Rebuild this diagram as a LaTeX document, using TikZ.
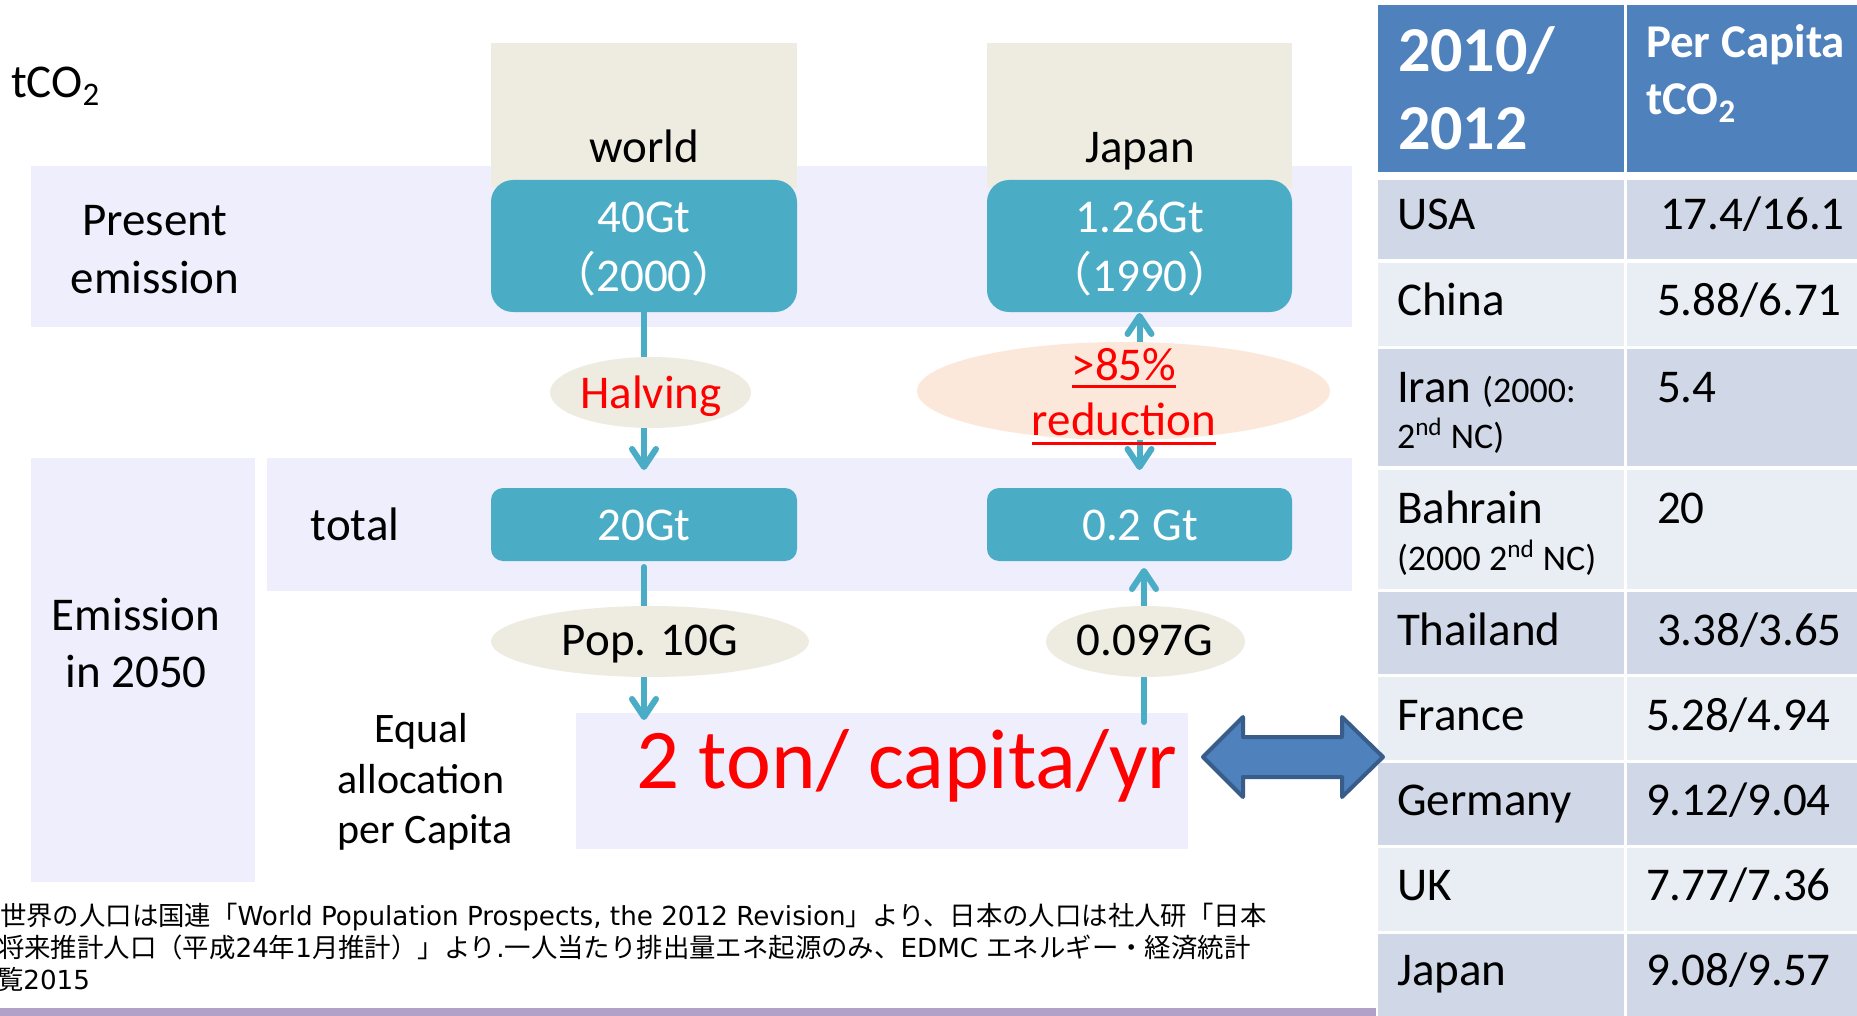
\documentclass[tikz,border=0pt]{standalone}
\usepackage{fontspec}
\setmainfont{Carlito}
\newfontfamily\cjk{Noto Sans CJK JP}
\newfontfamily\lat{DejaVu Sans}
\usetikzlibrary{shapes.geometric,arrows.meta}
\definecolor{bandc}{RGB}{238,238,252}
\definecolor{tanc}{RGB}{238,236,225}
\definecolor{aqua}{RGB}{75,172,198}
\definecolor{peach}{RGB}{252,232,218}
\definecolor{hdr}{RGB}{79,129,189}
\definecolor{rowA}{RGB}{208,216,232}
\definecolor{rowB}{RGB}{233,237,244}
\definecolor{arrB}{RGB}{56,93,138}
\definecolor{purp}{RGB}{177,160,199}
\definecolor{redc}{RGB}{255,0,0}
\newcommand\fL{\fontsize{23.5}{28}\selectfont}
\newcommand\fS{\fontsize{18}{22}\selectfont}
\newcommand\fN{\fontsize{13.2}{15}\selectfont}
\newcommand\lt[1]{{\lat\fontsize{13.1}{15}\selectfont #1}}
\begin{document}
\begin{tikzpicture}[x=0.5pt,y=-0.5pt,
  bgbox/.style={rectangle,inner sep=0,outer sep=0,draw=none},
  ell/.style={ellipse,inner sep=0,outer sep=0,draw=none},
  arr/.style={draw=aqua,line width=3pt,line cap=round,
    -{Straight Barb[length=9pt,width=12pt,line cap=round,line join=round]}},
  arrtwo/.style={draw=aqua,line width=3pt,line cap=round,
    {Straight Barb[length=9pt,width=12pt,line cap=round,line join=round]}-{Straight Barb[length=9pt,width=12pt,line cap=round,line join=round]}},
  lbl/.style={inner sep=0,outer sep=0,anchor=base,font=\fL},
  wlbl/.style={lbl,text=white},
  tlbl/.style={inner sep=0,outer sep=0,anchor=base west,font=\fL},
  hlbl/.style={tlbl,text=white,font=\bfseries\fontsize{32}{38}\selectfont},
  plbl/.style={tlbl,text=white,font=\bfseries\fL},
  foot/.style={inner sep=0,outer sep=0,anchor=base west,font=\cjk\fN},
  uline/.style={draw=redc,line width=1.5pt}]
\useasboundingbox (0,0) rectangle (1857,1016);
\fill[white] (0,0) rectangle (1857,1016);

% background bands
\node[bgbox,fill=bandc,minimum width=660.5pt,minimum height=80.5pt] (bandP) at (691.5,246.5) {};
\node[bgbox,fill=bandc,minimum width=112pt,minimum height=212pt] (bandL) at (143,670) {};
\node[bgbox,fill=bandc,minimum width=542.5pt,minimum height=66.5pt] (bandT) at (809.5,524.5) {};
\node[bgbox,fill=bandc,minimum width=306pt,minimum height=68pt] (ton) at (882,781) {};

% column headers
\node[bgbox,fill=tanc,minimum width=153pt,minimum height=72.5pt] (hW) at (644,115.5) {};
\node[bgbox,fill=tanc,minimum width=152.5pt,minimum height=72.5pt] (hJ) at (1139.5,115.5) {};

% value boxes
\node[bgbox,fill=aqua,rounded corners=11pt,minimum width=153pt,minimum height=66pt] (b40) at (644,246) {};
\node[bgbox,fill=aqua,rounded corners=11pt,minimum width=152.5pt,minimum height=66pt] (bJ1) at (1139.5,246) {};
\node[bgbox,fill=aqua,rounded corners=6pt,minimum width=153pt,minimum height=36.5pt] (b20) at (644,524.5) {};
\node[bgbox,fill=aqua,rounded corners=6pt,minimum width=152.5pt,minimum height=36.5pt] (bJ2) at (1139.5,524.5) {};

% connectors
\draw[arr,shorten >=9pt] (b40) -- (b20);
\draw[arrtwo,shorten <=0.5pt,shorten >=9pt] (bJ1) -- (bJ2);
\coordinate (wtip) at (644,720);
\draw[arr,shorten <=3pt] (b20.south) -- (wtip);
\coordinate (jbot) at (1144,722);
\draw[arr,shorten >=3.5pt] (jbot) -- (jbot |- bJ2.south);

% ellipses
\node[ell,fill=tanc,minimum width=100.5pt,minimum height=35.5pt] (eH) at (650.5,392.5) {};
\node[ell,fill=peach,minimum width=206.5pt,minimum height=49pt] (eR) at (1123.5,391) {};
\node[ell,fill=tanc,minimum width=159pt,minimum height=35.5pt] (eP) at (650,641.5) {};
\node[ell,fill=tanc,minimum width=99.5pt,minimum height=35.5pt] (eJ) at (1145.5,641.5) {};

% left labels
\node[tlbl] (tco) at (11,98) {tCO\textsubscript{2}};
\node[lbl] (tWorld) at (644,163) {world};
\node[lbl] (tJapan) at (1140,163) {Japan};
\node[lbl] (tPres) at (155,235) {Present};
\node[lbl] (tEmis) at (155,293) {emission};
\node[wlbl] (t40) at (644,233) {40Gt};
\node[wlbl] (t2000) at (644,292) {{\cjk （}2000{\cjk ）}};
\node[wlbl] (t126) at (1140,233) {1.26Gt};
\node[wlbl] (t1990) at (1140,292) {{\cjk （}1990{\cjk ）}};
\node[lbl,text=redc] (tHalv) at (651,408) {Halving};
\node[lbl,text=redc] (tR1) at (1124,380) {>85\%\hspace{0.25em}};
\node[lbl,text=redc] (tR2) at (1124,435) {reduction};
\draw[uline] ([yshift=-3pt]tR1.base west) -- ([yshift=-3pt]tR1.base east);
\draw[uline] ([yshift=-4pt]tR2.base west) -- ([yshift=-4pt]tR2.base east);
\node[lbl] (tEm) at (136,630) {Emission};
\node[lbl] (tIn) at (136,687) {in 2050};
\node[lbl] (tTot) at (355,540) {total};
\node[wlbl] (t20) at (644,540) {20Gt};
\node[wlbl] (t02) at (1140,540) {0.2 Gt};
\node[lbl] (tPop) at (650,655) {Pop. 10G};
\node[lbl] (t097) at (1145,655) {0.097G};
\node[lbl,font=\fontsize{21}{25}\selectfont] (tEq1) at (421,742) {Equal};
\node[lbl,font=\fontsize{21}{25}\selectfont] (tEq2) at (421,793) {allocation};
\node[lbl,font=\fontsize{21}{25}\selectfont] (tEq3) at (425,843) {per Capita};
\node[lbl,text=redc,font=\fontsize{42.5}{50}\selectfont] (tTon) at (907,788) {2 ton/ capita/yr};

% table
\fill[hdr] (1378,5) rectangle (1624,172);
\fill[hdr] (1627,5) rectangle (1860,172);
\fill[rowA] (1378,180) rectangle (1624,259); \fill[rowA] (1627,180) rectangle (1860,259);
\fill[rowB] (1378,263) rectangle (1624,346); \fill[rowB] (1627,263) rectangle (1860,346);
\fill[rowA] (1378,349) rectangle (1624,466); \fill[rowA] (1627,349) rectangle (1860,466);
\fill[rowB] (1378,470) rectangle (1624,589); \fill[rowB] (1627,470) rectangle (1860,589);
\fill[rowA] (1378,592) rectangle (1624,674); \fill[rowA] (1627,592) rectangle (1860,674);
\fill[rowB] (1378,677) rectangle (1624,760); \fill[rowB] (1627,677) rectangle (1860,760);
\fill[rowA] (1378,763) rectangle (1624,845); \fill[rowA] (1627,763) rectangle (1860,845);
\fill[rowB] (1378,848) rectangle (1624,931); \fill[rowB] (1627,848) rectangle (1860,931);
\fill[rowA] (1378,934) rectangle (1624,1020); \fill[rowA] (1627,934) rectangle (1860,1020);

\node[hlbl] (h2010) at (1398,72) {2010/};
\node[hlbl] (h2012) at (1398,150) {2012};
\node[plbl] (hPer) at (1646,58) {Per Capita};
\node[plbl] (hTco) at (1646,115) {tCO\textsubscript{2}};

\node[tlbl] (cUSA) at (1397,230) {USA};
\node[tlbl] (vUSA) at (1660,230) {17.4/16.1};
\node[tlbl] (cChina) at (1397,315) {China};
\node[tlbl] (vChina) at (1657,315) {5.88/6.71};
\node[tlbl] (cIran) at (1397,402) {Iran {\fS (2000:}};
\node[tlbl,font=\fS] (cIran2) at (1397,448) {2\textsuperscript{nd} NC)};
\node[tlbl] (vIran) at (1657,402) {5.4};
\node[tlbl] (cBah) at (1397,523) {Bahrain};
\node[tlbl,font=\fS] (cBah2) at (1397,570) {(2000 2\textsuperscript{nd} NC)};
\node[tlbl] (vBah) at (1657,523) {20};
\node[tlbl] (cTha) at (1397,645) {Thailand};
\node[tlbl] (vTha) at (1657,645) {3.38/3.65};
\node[tlbl] (cFra) at (1397,730) {France};
\node[tlbl] (vFra) at (1646,730) {5.28/4.94};
\node[tlbl] (cGer) at (1397,815) {Germany};
\node[tlbl] (vGer) at (1646,815) {9.12/9.04};
\node[tlbl] (cUK) at (1397,900) {UK};
\node[tlbl] (vUK) at (1646,900) {7.77/7.36};
\node[tlbl] (cJpn) at (1397,985) {Japan};
\node[tlbl] (vJpn) at (1646,985) {9.08/9.57};

% double block arrow
\draw[fill=hdr,draw=arrB,line width=2pt,line join=round]
  (1203,757) -- (1243,717) -- (1243,737) -- (1342,737) -- (1342,717) -- (1383,757)
  -- (1342,797) -- (1342,777) -- (1243,777) -- (1243,797) -- cycle;

% footnote
\node[foot] (f1) at (0,925) {世界の人口は国連「\lt{World Population Prospects, the 2012 Revision}」より、日本の人口は社人研「日本};
\node[foot] (f2) at (-2,957) {将来推計人口（平成\lt{24}年\lt{1}月推計）」より\lt{.}一人当たり排出量エネ起源のみ、\lt{EDMC }エネルギー・経済統計};
\node[foot] (f3) at (-3,989) {覧\lt{2015}};

% bottom bar
\fill[purp] (0,1008) rectangle (1376,1016);
\end{tikzpicture}
\end{document}
